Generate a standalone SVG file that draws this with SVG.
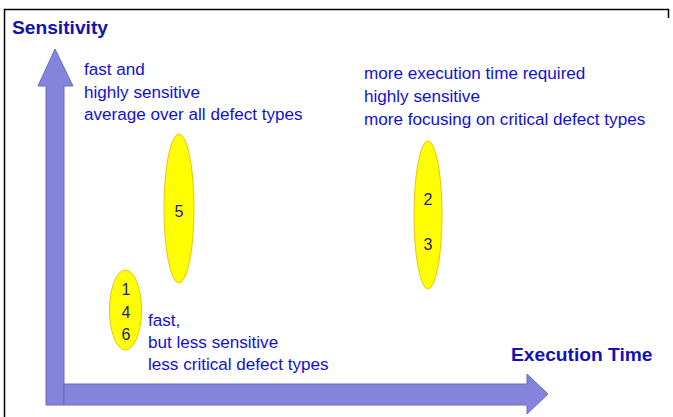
<svg xmlns="http://www.w3.org/2000/svg" width="673" height="417" viewBox="0 0 673 417">
<style>
.t{font-family:"Liberation Sans",Arial,sans-serif;font-size:17.1px;fill:#1010d8}
.h{font-family:"Liberation Sans",Arial,sans-serif;font-size:19.2px;font-weight:bold;fill:#1212b4}
.n{font-family:"Liberation Sans",Arial,sans-serif;font-size:16px;fill:#202090;text-anchor:middle}
.e{fill:#ffff00;stroke:#f2c010;stroke-width:1}
.ar{fill:#8484dc;stroke:#6a6ac8;stroke-width:1}
</style>
<rect width="673" height="417" fill="#ffffff"/>
<g id="frame" fill="none" stroke="#000" stroke-width="1.5">
<path d="M4.5 417 V9.5 H668.5 V18"/>
</g>
<g id="connectors">
<path class="ar" d="M46 405 V86 H38 L55 49 L73 86 H64 V405 Z"/>
<path class="ar" d="M64 384 H527 V374 L548 394 L527 414 V405 H64 Z"/>
</g>
<g id="axis-y"><text class="h" x="12" y="34">Sensitivity</text></g>
<g id="axis-x"><text class="h" x="511" y="361">Execution Time</text></g>
<g id="node-5">
<ellipse class="e" cx="179" cy="208.5" rx="15" ry="74.5"/>
<text class="n" x="179" y="217">5</text>
</g>
<g id="node-23">
<ellipse class="e" cx="428" cy="215" rx="14" ry="74"/>
<text class="n" x="428" y="205">2</text>
<text class="n" x="428" y="250">3</text>
</g>
<g id="node-146">
<ellipse class="e" cx="125.5" cy="310" rx="16" ry="40"/>
<text class="n" x="126" y="295">1</text>
<text class="n" x="126" y="318">4</text>
<text class="n" x="126" y="340">6</text>
</g>
<g id="label-top-left">
<text class="t" x="84" y="75">fast and</text>
<text class="t" x="84" y="98">highly sensitive</text>
<text class="t" x="84" y="120">average over all defect types</text>
</g>
<g id="label-top-right">
<text class="t" x="364" y="79">more execution time required</text>
<text class="t" x="364" y="102">highly sensitive</text>
<text class="t" x="364" y="125">more focusing on critical defect types</text>
</g>
<g id="label-bottom">
<text class="t" x="148" y="326">fast,</text>
<text class="t" x="148" y="348">but less sensitive</text>
<text class="t" x="148" y="370">less critical defect types</text>
</g>
</svg>
